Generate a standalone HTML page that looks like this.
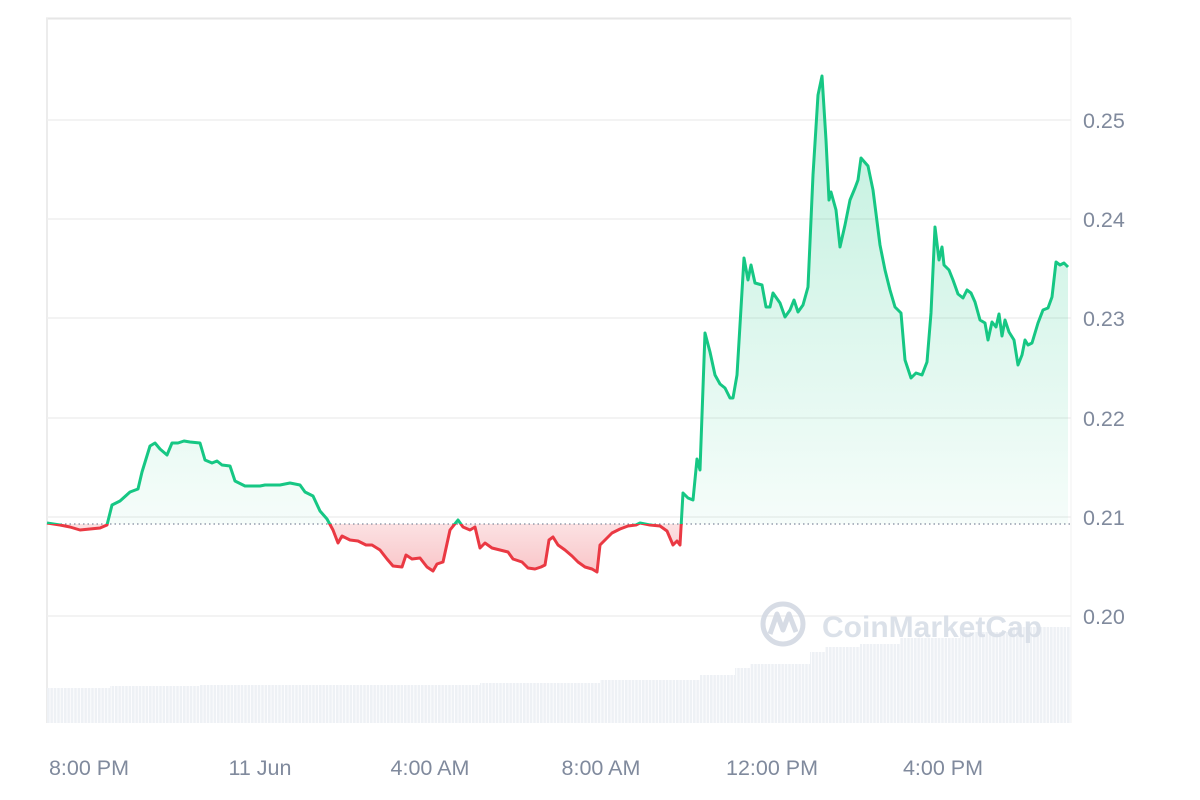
<!DOCTYPE html>
<html><head><meta charset="utf-8"><style>
html,body{margin:0;padding:0;background:#fff;}
svg{display:block;font-family:"Liberation Sans",sans-serif;}
</style></head><body>
<svg width="1200" height="800" viewBox="0 0 1200 800" xmlns="http://www.w3.org/2000/svg">
<defs>
<linearGradient id="gg" x1="0" y1="75" x2="0" y2="524" gradientUnits="userSpaceOnUse">
<stop offset="0" stop-color="#16c784" stop-opacity="0.28"/>
<stop offset="1" stop-color="#16c784" stop-opacity="0.04"/>
</linearGradient>
<linearGradient id="rg" x1="0" y1="524" x2="0" y2="575" gradientUnits="userSpaceOnUse">
<stop offset="0" stop-color="#ea3943" stop-opacity="0.15"/>
<stop offset="1" stop-color="#ea3943" stop-opacity="0.3"/>
</linearGradient>
<clipPath id="above"><rect x="0" y="0" width="1200" height="524"/></clipPath>
<clipPath id="below"><rect x="0" y="524" width="1200" height="300"/></clipPath>
<pattern id="stripes" x="47" y="0" width="3.4" height="10" patternUnits="userSpaceOnUse">
<rect x="0" y="0" width="2.6" height="10" fill="#eef1f5"/>
</pattern>
</defs>
<line x1="46" y1="18.5" x2="1071" y2="18.5" stroke="#e6e6e6" stroke-width="2"/>
<line x1="47" y1="18" x2="47" y2="723" stroke="#ececec" stroke-width="2"/>
<line x1="1071" y1="18" x2="1071" y2="723" stroke="#f0f0f0" stroke-width="1"/>
<g stroke="#efefef" stroke-width="1.5">
<line x1="47" y1="120" x2="1071" y2="120"/>
<line x1="47" y1="219" x2="1071" y2="219"/>
<line x1="47" y1="318" x2="1071" y2="318"/>
<line x1="47" y1="418" x2="1071" y2="418"/>
<line x1="47" y1="517" x2="1071" y2="517"/>
<line x1="47" y1="616" x2="1071" y2="616"/>
</g>
<path fill="url(#stripes)" d="M47 723 V688 H110 V686 H200 V685 H480 V683 H600 V680 H700 V675 H735 V668 H750 V664 H810 V652 H825 V647 H860 V644 H900 V638 H960 V632 H1010 V627 H1071 V723 Z"/>
<g opacity="0.9">
<circle cx="783" cy="624" r="20" fill="none" stroke="#d3d9e3" stroke-width="5"/>
<path d="M770 634 L777 614 L783 630 L789 614 L796 632" fill="none" stroke="#d3d9e3" stroke-width="5" stroke-linejoin="round"/>
<text x="822" y="637" font-size="30" font-weight="bold" fill="#d8dee7">CoinMarketCap</text>
</g>
<path id="area" clip-path="url(#above)" fill="url(#gg)" d=""/>
<path id="areaR" clip-path="url(#below)" fill="url(#rg)" d=""/>
<line x1="47" y1="524" x2="1071" y2="524" stroke="#808a9d" stroke-width="1.2" stroke-dasharray="1.5,3"/>
<path id="lineG" clip-path="url(#above)" fill="none" stroke="#16c784" stroke-width="3" stroke-linejoin="round" d=""/>
<path id="lineR" clip-path="url(#below)" fill="none" stroke="#ea3943" stroke-width="3" stroke-linejoin="round" d=""/>
<g font-size="21.5" fill="#808a9d">
<text x="1083" y="128">0.25</text>
<text x="1083" y="227">0.24</text>
<text x="1083" y="326">0.23</text>
<text x="1083" y="426">0.22</text>
<text x="1083" y="525">0.21</text>
<text x="1083" y="624">0.20</text>
</g>
<g font-size="21.5" fill="#808a9d" text-anchor="middle">
<text x="89" y="775">8:00 PM</text>
<text x="260" y="775">11 Jun</text>
<text x="430" y="775">4:00 AM</text>
<text x="601" y="775">8:00 AM</text>
<text x="772" y="775">12:00 PM</text>
<text x="943" y="775">4:00 PM</text>
</g>
</svg>
<script>
var pts=[[47,523],[60,525],[70,527],[80,530],[90,529],[100,528],[107,525],[112,505],[120,501],[130,492],[138,489],[142,472],[150,446],[155,443],[160,449],[167,455],[172,443],[178,443],[184,441],[190,442],[200,443],[205,460],[212,463],[217,461],[222,465],[230,466],[235,481],[245,486],[260,486],[265,485],[280,485],[290,483],[300,485],[305,492],[313,496],[320,511],[327,519],[333,530],[338,543],[342,536],[350,540],[358,541],[366,545],[372,545],[380,550],[387,559],[393,566],[402,567],[406,555],[412,559],[420,558],[427,567],[433,571],[437,564],[443,562],[450,530],[458,520],[463,527],[470,530],[475,527],[480,548],[485,543],[492,548],[500,550],[508,552],[513,559],[522,562],[528,568],[535,569],[541,567],[545,565],[549,540],[553,537],[558,545],[565,550],[572,556],[578,562],[585,567],[592,569],[597,572],[600,545],[607,538],[612,533],[620,529],[628,526],[636,525],[640,523],[650,525],[660,526],[667,531],[673,545],[677,541],[680,545],[683,493],[688,498],[693,500],[697,459],[700,470],[705,333],[710,352],[715,375],[720,384],[725,388],[730,398],[733,398],[737,375],[744,258],[748,280],[751,265],[755,283],[762,285],[766,307],[770,307],[773,293],[780,303],[785,317],[790,310],[794,300],[798,312],[803,305],[808,287],[813,175],[818,95],[822,76],[826,140],[829,200],[831,192],[836,210],[840,247],[845,225],[850,200],[855,188],[858,180],[861,158],[868,166],[873,190],[880,245],[885,270],[890,290],[895,307],[901,313],[905,360],[911,378],[916,373],[922,375],[927,362],[931,313],[935,227],[939,260],[942,247],[944,265],[949,270],[953,280],[958,294],[963,298],[967,290],[971,293],[975,302],[980,320],[985,323],[988,340],[992,322],[996,327],[999,314],[1002,336],[1005,320],[1009,332],[1014,340],[1018,365],[1022,355],[1025,340],[1028,345],[1032,343],[1038,323],[1043,310],[1048,308],[1052,297],[1056,262],[1060,265],[1064,263],[1068,267]];
var d="M"+pts.map(function(p){return p[0]+" "+p[1]}).join(" L");
document.getElementById("lineG").setAttribute("d",d);
document.getElementById("lineR").setAttribute("d",d);
var a=d+" L1068 524 L47 524 Z";
document.getElementById("area").setAttribute("d",a);
document.getElementById("areaR").setAttribute("d",a);
</script>
</body></html>
